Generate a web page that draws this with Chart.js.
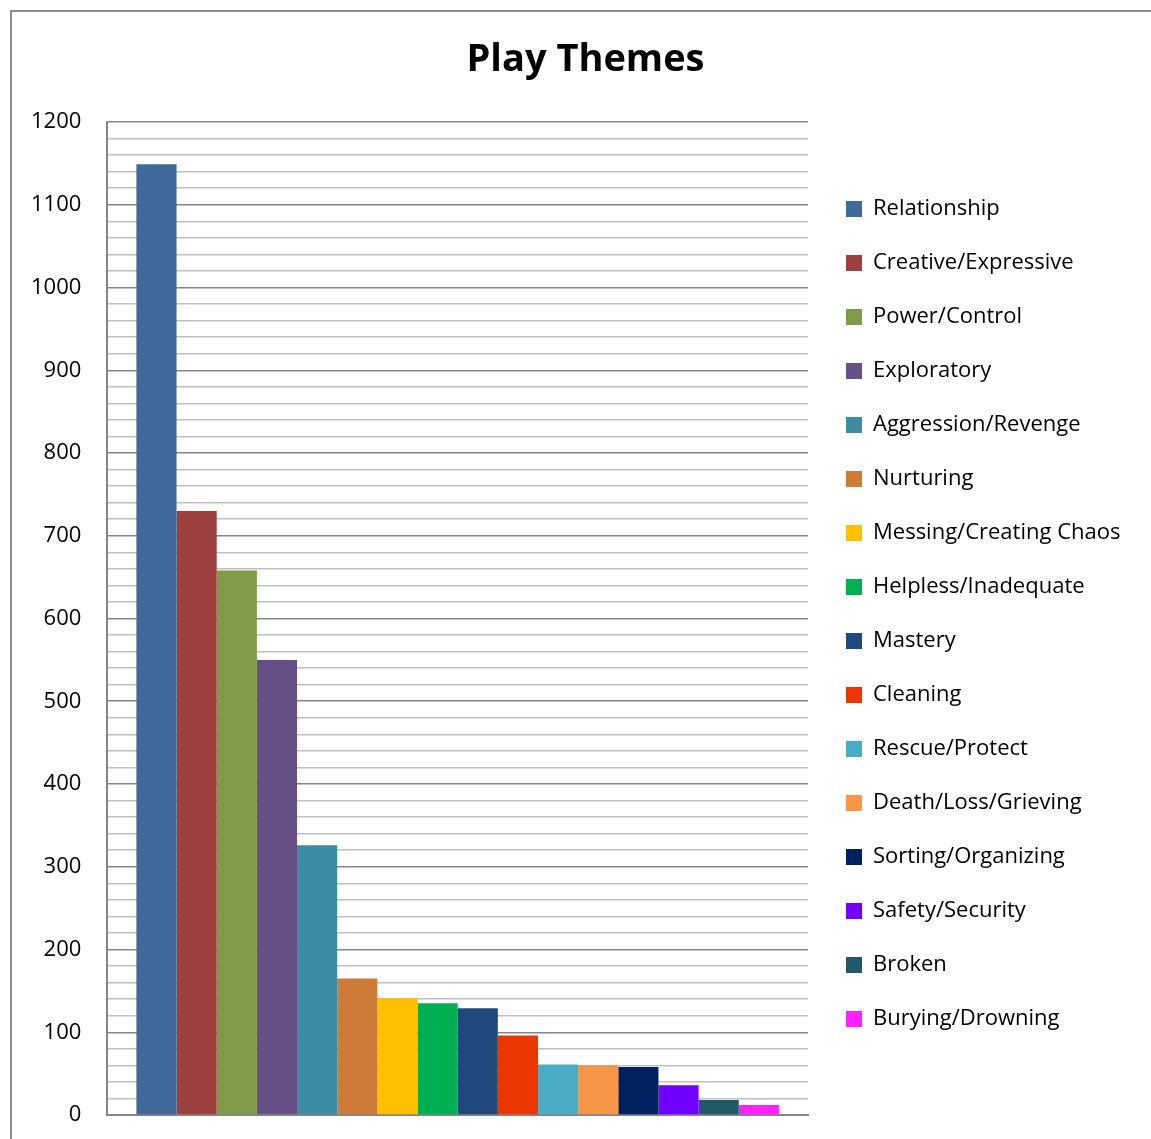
<!DOCTYPE html>
<html>
<head>
<meta charset="utf-8">
<script src="https://cdn.jsdelivr.net/npm/chart.js@4/dist/chart.umd.min.js"></script>
<style>
  html, body { margin: 0; padding: 0; background: #fff; overflow: hidden; }
  #frame { position: absolute; left: 10px; top: 10px; width: 1300px; height: 1300px; border: 2px solid #8c8c8c; }
  #wrap { position: absolute; left: 0; top: 0; width: 1151px; height: 1139px; }
</style>
</head>
<body>
<div id="frame"></div>
<div id="wrap"><canvas id="playChart"></canvas></div>
<script>
const themes = ['Relationship', 'Creative/Expressive', 'Power/Control', 'Exploratory', 'Aggression/Revenge',
  'Nurturing', 'Messing/Creating Chaos', 'Helpless/Inadequate', 'Mastery', 'Cleaning', 'Rescue/Protect',
  'Death/Loss/Grieving', 'Sorting/Organizing', 'Safety/Security', 'Broken', 'Burying/Drowning'];
const counts = [1149, 730, 658, 550, 326, 165, 141, 135, 129, 96, 61, 60, 58, 36, 18, 12];
const colors = ['#406a9c', '#9c403e', '#7f9a48', '#675088', '#3b8ca4', '#cc7b38', '#ffc000', '#00b050',
  '#1f497d', '#ea3700', '#4bacc6', '#f79646', '#002060', '#7000ff', '#215968', '#ff21ff'];
const majorTicks = [0, 100, 200, 300, 400, 500, 600, 700, 800, 900, 1000, 1100, 1200];

const FONT = '"Open Sans", Calibri, sans-serif';

const datasets = themes.map((name, i) => ({
  label: name,
  data: [counts[i]],
  backgroundColor: colors[i],
  borderWidth: 0,
}));

// legend takes a fixed strip on the right, like the spreadsheet chart
const legendSpot = {
  id: 'legendSpot',
  beforeLayout(chart) {
    const lg = chart.legend;
    if (!lg || lg._patched) return;
    const fit = lg.fit;
    lg.fit = function () {
      fit.call(this);
      this.width = 343;
    };
    lg._patched = true;
  },
  afterLayout(chart) {
    const lg = chart.legend;
    const dy = (1228 - (lg.top + lg.bottom)) / 2;
    lg.top += dy; lg.bottom += dy;
    lg.left += 6; lg.right += 6;
    const tb = chart.titleBlock;
    if (tb) { tb.left -= 4; tb.right -= 4; }
  },
};

new Chart(document.getElementById('playChart'), {
  type: 'bar',
  data: { labels: [''], datasets },
  plugins: [legendSpot],
  options: {
    responsive: true,
    maintainAspectRatio: false,
    animation: false,
    datasets: { bar: { categoryPercentage: 0.917, barPercentage: 1 } },
    layout: { padding: { left: 28, right: 0, top: 16, bottom: 16 } },
    plugins: {
      tooltip: { enabled: false },
      title: {
        display: true,
        text: 'Play Themes',
        color: '#000',
        font: { family: FONT, size: 38, weight: 'bold' },
        padding: { top: 21, bottom: 39.4 },
      },
      legend: {
        position: 'right',
        align: 'center',
        labels: {
          boxWidth: 16,
          boxHeight: 16,
          padding: 32,
          color: '#000',
          font: { family: FONT, size: 22 },
        },
      },
    },
    scales: {
      x: {
        grid: { display: false },
        border: { display: true, color: '#868686', width: 2 },
        ticks: { display: false },
      },
      y: {
        min: 0,
        max: 1200,
        border: { display: true, color: '#868686', width: 2 },
        grid: {
          drawTicks: true,
          tickLength: 23,
          tickColor: 'rgba(0,0,0,0)',
          lineWidth: 1.5,
          color: (ctx) => (majorTicks.includes(ctx.tick.value) ? '#868686' : '#c0c0c0'),
        },
        ticks: {
          stepSize: 20,
          autoSkip: false,
          padding: 3,
          color: '#000',
          font: { family: FONT, size: 22 },
          callback: (v) => (majorTicks.includes(v) ? String(v) : ''),
        },
      },
    },
  },
});
</script>
</body>
</html>
